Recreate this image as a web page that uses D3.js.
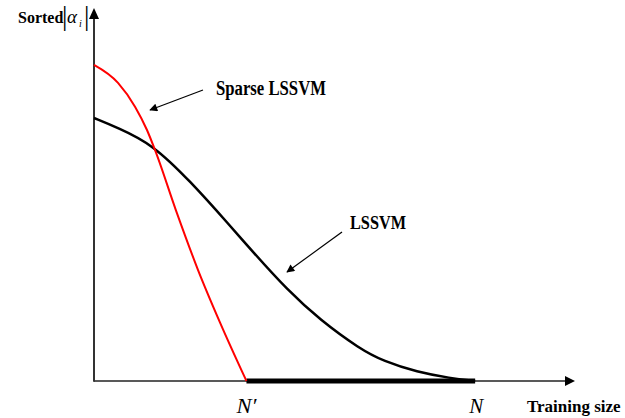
<!DOCTYPE html>
<html>
<head>
<meta charset="utf-8">
<script src="https://cdn.jsdelivr.net/npm/d3@7"></script>
<style>
  html, body { margin: 0; padding: 0; background: #fff; }
  svg { display: block; }
  text { font-family: "Liberation Serif", "Times New Roman", serif; fill: #000; }
</style>
</head>
<body>
<svg id="chart" width="625" height="418"></svg>
<script>
// Sorted magnitudes of the support values against training index
const sparseX = [0, 6.3, 10.8, 13.9, 16.0, 21.5, 27.3, 33.1, 40];
const sparseY = [1.0, 0.943, 0.867, 0.794, 0.731, 0.54, 0.351, 0.184, 0];

const fullX = [0, 6.3, 15.2, 25.2, 35.7, 41.5, 50.7, 59.3, 69.8, 75.9, 84.8, 93.4, 100];
const fullY = [0.832, 0.801, 0.75, 0.633, 0.491, 0.411, 0.288, 0.193, 0.101, 0.063, 0.028, 0.009, 0];

const nPrime = 40;   // samples kept by the sparse model
const nTotal = 100;  // full training set size
const xTickLabels = ["N\u2032", "N"];

const svg = d3.select("#chart");

const x = d3.scaleLinear().domain([0, 126.2]).range([94, 575]);
const y = d3.scaleLinear().domain([0, 1.18]).range([381, 8]);

// axes with arrowheads
svg.append("line")
  .attr("x1", x(0)).attr("y1", y(0)).attr("x2", x(126.2) - 8).attr("y2", y(0))
  .attr("stroke", "#222").attr("stroke-width", 1.5);
svg.append("line")
  .attr("x1", x(0)).attr("y1", y(0) + 0.75).attr("x2", x(0)).attr("y2", y(1.18) + 9)
  .attr("stroke", "#333").attr("stroke-width", 2);
svg.append("path")
  .attr("d", `M${x(126.2)},${y(0)} L${x(126.2) - 10},${y(0) - 5} L${x(126.2) - 10},${y(0) + 5} Z`)
  .attr("fill", "#000");
svg.append("path")
  .attr("d", `M${x(0)},${y(1.18)} L${x(0) - 5},${y(1.18) + 11} L${x(0) + 5},${y(1.18) + 11} Z`)
  .attr("fill", "#000");

const smooth = d3.line().x(d => x(d[0])).y(d => y(d[1])).curve(d3.curveBasis);
const monotone = d3.line().x(d => x(d[0])).y(d => y(d[1])).curve(d3.curveMonotoneX);

// thick baseline where the sparse model has zero weights
svg.append("line")
  .attr("x1", x(nPrime)).attr("y1", y(0)).attr("x2", x(nTotal)).attr("y2", y(0))
  .attr("stroke", "#000").attr("stroke-width", 5);

svg.append("path")
  .datum(d3.zip(fullX, fullY))
  .attr("d", smooth)
  .attr("fill", "none").attr("stroke", "#000").attr("stroke-width", 2.5);

svg.append("path")
  .datum(d3.zip(sparseX, sparseY))
  .attr("d", monotone)
  .attr("fill", "none").attr("stroke", "#f00").attr("stroke-width", 2);

// annotation arrows
const defs = svg.append("defs");
defs.append("marker")
  .attr("id", "head").attr("viewBox", "0 0 10 10").attr("refX", 9).attr("refY", 5)
  .attr("markerWidth", 10).attr("markerHeight", 8).attr("markerUnits", "userSpaceOnUse")
  .attr("orient", "auto")
  .append("path").attr("d", "M0,0 L10,5 L0,10 Z").attr("fill", "#000");

svg.append("line")
  .attr("x1", 203).attr("y1", 90).attr("x2", 150).attr("y2", 110)
  .attr("stroke", "#000").attr("stroke-width", 1.2).attr("marker-end", "url(#head)");
svg.append("line")
  .attr("x1", 342).attr("y1", 232).attr("x2", 287).attr("y2", 272)
  .attr("stroke", "#000").attr("stroke-width", 1.2).attr("marker-end", "url(#head)");

// labels
svg.append("text").attr("x", 216).attr("y", 95)
  .attr("font-size", 20).attr("font-weight", "bold")
  .attr("textLength", 110).attr("lengthAdjust", "spacingAndGlyphs")
  .text("Sparse LSSVM");
svg.append("text").attr("x", 350).attr("y", 229)
  .attr("font-size", 18).attr("font-weight", "bold")
  .attr("textLength", 56).attr("lengthAdjust", "spacingAndGlyphs")
  .text("LSSVM");

// y axis title: Sorted|α_i|
svg.append("text").attr("x", 18).attr("y", 23)
  .attr("font-size", 16).attr("font-weight", "bold").text("Sorted");
svg.append("text").attr("x", 62).attr("y", 25)
  .attr("font-size", 27).attr("fill", "#666").text("|");
svg.append("text").attr("x", 67).attr("y", 23)
  .attr("font-size", 19).attr("font-style", "italic").text("\u03b1");
svg.append("text").attr("x", 79).attr("y", 27)
  .attr("font-size", 10).attr("font-style", "italic").text("i");
svg.append("text").attr("x", 84).attr("y", 25)
  .attr("font-size", 27).attr("fill", "#666").text("|");

// x tick labels
svg.selectAll("text.tick")
  .data([nPrime, nTotal])
  .join("text")
  .attr("class", "tick")
  .attr("x", (d, i) => x(d) + (i === 0 ? 0 : 1))
  .attr("y", 413)
  .attr("text-anchor", "middle")
  .attr("font-size", 21).attr("font-style", "italic")
  .attr("textLength", (d, i) => i === 0 ? 20 : 14)
  .attr("lengthAdjust", "spacingAndGlyphs")
  .text((d, i) => xTickLabels[i]);

svg.append("text").attr("x", 527).attr("y", 412)
  .attr("font-size", 17).attr("font-weight", "bold")
  .text("Training size");
</script>
</body>
</html>
